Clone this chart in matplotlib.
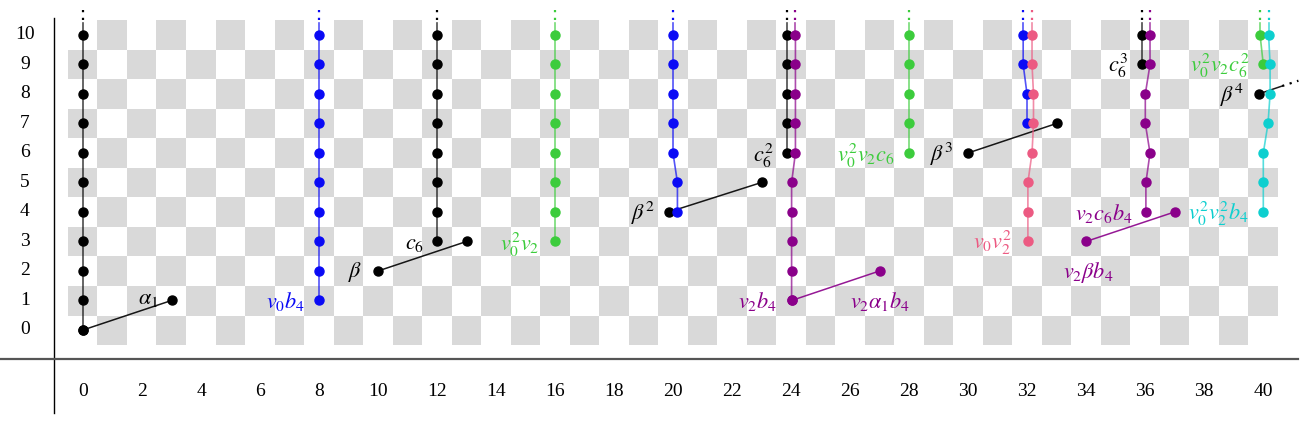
import numpy as np
import matplotlib
matplotlib.use('Agg')
import matplotlib.pyplot as plt

plt.rcParams['mathtext.fontset'] = 'stix'
plt.rcParams['font.family'] = ['Liberation Serif', 'DejaVu Serif']

BLACK = '#000000'
BLUE = '#0a0af5'
GREEN = '#3ccc3c'
PURPLE = '#8a008a'
PINK = '#ec5a82'
CYAN = '#0dcfcf'

# towers: x positions, y positions (dotted continuation above the top dot)
towers = [
    (BLACK, [0, 0, 0, 0, 0, 0, 0, 0, 0, 0, 0], [0, 1, 2, 3, 4, 5, 6, 7, 8, 9, 10]),
    (BLUE, [8, 8, 8, 8, 8, 8, 8, 8, 8, 8], [1, 2, 3, 4, 5, 6, 7, 8, 9, 10]),
    (BLACK, [12, 12, 12, 12, 12, 12, 12, 12], [3, 4, 5, 6, 7, 8, 9, 10]),
    (GREEN, [16, 16, 16, 16, 16, 16, 16, 16], [3, 4, 5, 6, 7, 8, 9, 10]),
    (BLUE, [20.15, 20.15, 20, 20, 20, 20, 20], [4, 5, 6, 7, 8, 9, 10]),
    (BLACK, [23.87, 23.87, 23.87, 23.87, 23.87], [6, 7, 8, 9, 10]),
    (PURPLE, [24.02, 24.02, 24.02, 24.02, 24.02, 24.15, 24.15, 24.15, 24.15, 24.15],
     [1, 2, 3, 4, 5, 6, 7, 8, 9, 10]),
    (GREEN, [28, 28, 28, 28, 28], [6, 7, 8, 9, 10]),
    (BLUE, [32.0, 32.0, 31.87, 31.87], [7, 8, 9, 10]),
    (PINK, [32.03, 32.03, 32.03, 32.17, 32.22, 32.22, 32.17, 32.17], [3, 4, 5, 6, 7, 8, 9, 10]),
    (BLACK, [35.9, 35.9], [9, 10]),
    (PURPLE, [36.03, 36.03, 36.17, 36.01, 36.01, 36.17, 36.17], [4, 5, 6, 7, 8, 9, 10]),
    (GREEN, [40.01, 39.9], [9, 10]),
    (CYAN, [40.01, 40.01, 40.01, 40.17, 40.24, 40.24, 40.19], [4, 5, 6, 7, 8, 9, 10]),
]

# slanted segments (beta / alpha multiplications)
segments = [
    (BLACK, [0, 3], [0, 1]),
    (BLACK, [10, 13], [2, 3]),
    (BLACK, [19.86, 23], [4, 5]),
    (BLACK, [30, 33], [6, 7]),
    (PURPLE, [24.02, 27], [1, 2]),
    (PURPLE, [34, 37], [3, 4]),
]
beta4_x = [39.85, 40.65]
beta4_y = [8, 8.27]
beta4_dots_x = [40.65, 41.2]
beta4_dots_y = [8.27, 8.45]

labels = [
    (BLACK, r'$\alpha_1$', 2.2, 1.05),
    (BLUE, r'$v_0b_4$', 6.85, 0.95),
    (BLACK, r'$\beta$', 9.22, 1.97),
    (BLACK, r'$c_6$', 11.25, 2.9),
    (GREEN, r'$v_0^2v_2$', 14.81, 2.9),
    (BLACK, r'$\beta^2$', 18.98, 3.95),
    (BLACK, r'$c_6^2$', 23.05, 5.9),
    (GREEN, r'$v_0^2v_2c_6$', 26.55, 5.9),
    (BLACK, r'$\beta^3$', 29.12, 5.95),
    (PURPLE, r'$v_2b_4$', 22.85, 0.95),
    (PURPLE, r'$v_2\alpha_1b_4$', 27.02, 0.95),
    (PINK, r'$v_0v_2^2$', 30.85, 2.95),
    (PURPLE, r'$v_2c_6b_4$', 34.61, 3.95),
    (PURPLE, r'$v_2\beta b_4$', 34.07, 1.95),
    (BLACK, r'$c_6^3$', 35.08, 8.95),
    (GREEN, r'$v_0^2v_2c_6^2$', 38.54, 8.95),
    (BLACK, r'$\beta^4$', 38.95, 7.95),
    (CYAN, r'$v_0^2v_2^2b_4$', 38.5, 3.95),
]

x_ticks = [0, 2, 4, 6, 8, 10, 12, 14, 16, 18, 20, 22, 24, 26, 28, 30, 32, 34, 36, 38, 40]
y_ticks = [0, 1, 2, 3, 4, 5, 6, 7, 8, 9, 10]

fig = plt.figure(figsize=(13, 4.43), dpi=100)
ax = fig.add_axes([0, 0, 1, 1])
ax.set_xlim(-2.814, 41.254)
ax.set_ylim(-3.831, 11.186)
ax.axis('off')

# checkerboard background
board = np.indices((11, 41)).sum(axis=0) % 2
ax.imshow(board, cmap=matplotlib.colors.ListedColormap(['white', '#d9d9d9']),
          extent=[-0.5, 40.5, -0.5, 10.5], origin='lower', aspect='auto',
          interpolation='nearest', zorder=0)

# axis lines
ax.plot([-1, -1], [-2.8, 10.58], color='black', lw=1.0, zorder=1)
ax.plot([-2.9, 41.2], [-1, -1], color='#555555', lw=1.6, zorder=1)

for y in y_ticks:
    ax.text(-1.97, y, str(y), ha='center', va='center', fontsize=14)
for x in x_ticks:
    ax.text(x, -2.07, str(x), ha='center', va='center', fontsize=14)

for col, xs, ys in segments:
    ax.plot(xs, ys, color=col, lw=1.1, alpha=0.9, zorder=2)
    ax.plot(xs, ys, 'o', color=col, ms=6.5, zorder=4)

ax.plot(beta4_x, beta4_y, color=BLACK, lw=1.1, alpha=0.9, zorder=2)
ax.plot(beta4_dots_x, beta4_dots_y, color=BLACK, lw=1.6, ls=(0, (1, 2.5)), zorder=2)
ax.plot(beta4_x[:1], beta4_y[:1], 'o', color=BLACK, ms=6.5, zorder=4)

for col, xs, ys in towers:
    ax.plot(xs, ys, color=col, lw=1.2, alpha=0.7, zorder=3)
    ax.plot(xs, ys, 'o', color=col, ms=6.5, zorder=4)
    ax.plot([xs[-1], xs[-1]], [ys[-1], ys[-1] + 0.4], color=col, lw=1.2, alpha=0.7, zorder=3)
    ax.plot([xs[-1], xs[-1]], [ys[-1] + 0.5, ys[-1] + 1.0], color=col, lw=1.6,
            ls=(0, (1, 2.5)), zorder=3)

for col, txt, x, y in labels:
    ax.text(x, y, txt, color=col, ha='center', va='center', fontsize=16)

fig.savefig('out.png', dpi=100)
